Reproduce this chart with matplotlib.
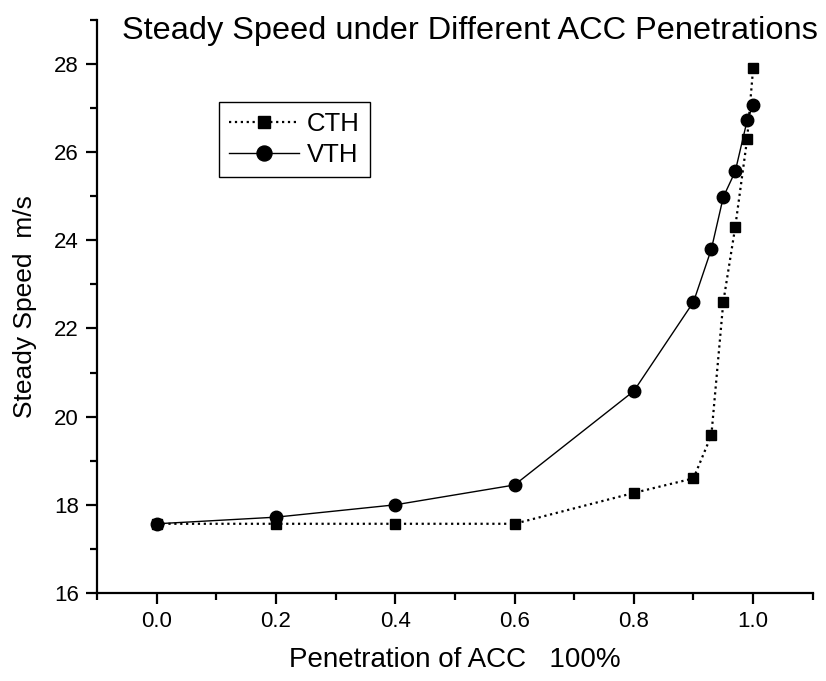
import matplotlib
matplotlib.use("Agg")
import matplotlib.pyplot as plt
from matplotlib.ticker import MultipleLocator, FormatStrFormatter

plt.rcParams['font.family'] = ['Liberation Sans', 'DejaVu Sans']

penetration = [0.0, 0.2, 0.4, 0.6, 0.8, 0.9, 0.93, 0.95, 0.97, 0.99, 1.0]
cth_speed = [17.57, 17.57, 17.57, 17.57, 18.27, 18.6, 19.58, 22.6, 24.3, 26.3, 27.9]
vth_speed = [17.57, 17.72, 18.0, 18.45, 20.58, 22.6, 23.8, 24.98, 25.56, 26.72, 27.06]

title = "Steady Speed under Different ACC Penetrations"
xlabel = "Penetration of ACC   100%"
ylabel = "Steady Speed  m/s"

fig = plt.figure(figsize=(8.26, 6.81), dpi=100)
ax = fig.add_axes([0.1174, 0.1292, 0.8666, 0.8418])

ax.plot(penetration, cth_speed, color='black', linestyle=':', linewidth=1.6,
        marker='s', markersize=7.5, label='CTH')
ax.plot(penetration, vth_speed, color='black', linestyle='-', linewidth=1.0,
        marker='o', markersize=9, label='VTH')

ax.set_xlim(-0.1, 1.1)
ax.set_ylim(16, 29)
ax.xaxis.set_major_locator(MultipleLocator(0.2))
ax.xaxis.set_minor_locator(MultipleLocator(0.1))
ax.yaxis.set_major_locator(MultipleLocator(2))
ax.yaxis.set_minor_locator(MultipleLocator(1))
ax.xaxis.set_major_formatter(FormatStrFormatter('%.1f'))

for s in ['top', 'right']:
    ax.spines[s].set_visible(False)
for s in ['left', 'bottom']:
    ax.spines[s].set_linewidth(1.6)

ax.tick_params(which='major', direction='out', length=8, width=1.6, labelsize=16, pad=5)
ax.tick_params(which='minor', direction='out', length=5, width=1.6)

ax.set_xlabel(xlabel, fontsize=20, labelpad=11)
ax.set_ylabel(ylabel, fontsize=19, labelpad=12)

fig.text(0.569, 0.955, title, fontsize=23.4, ha='center', va='center')

leg = ax.legend(loc='upper left', bbox_to_anchor=(0.170, 0.857), fontsize=18.5,
                frameon=True, fancybox=False, edgecolor='black', framealpha=1,
                handlelength=2.72, handletextpad=0.31, borderpad=0.4,
                labelspacing=0.28, borderaxespad=0, markerscale=1.2)
leg.get_frame().set_linewidth(1.0)

fig.savefig("out.png", dpi=100)
